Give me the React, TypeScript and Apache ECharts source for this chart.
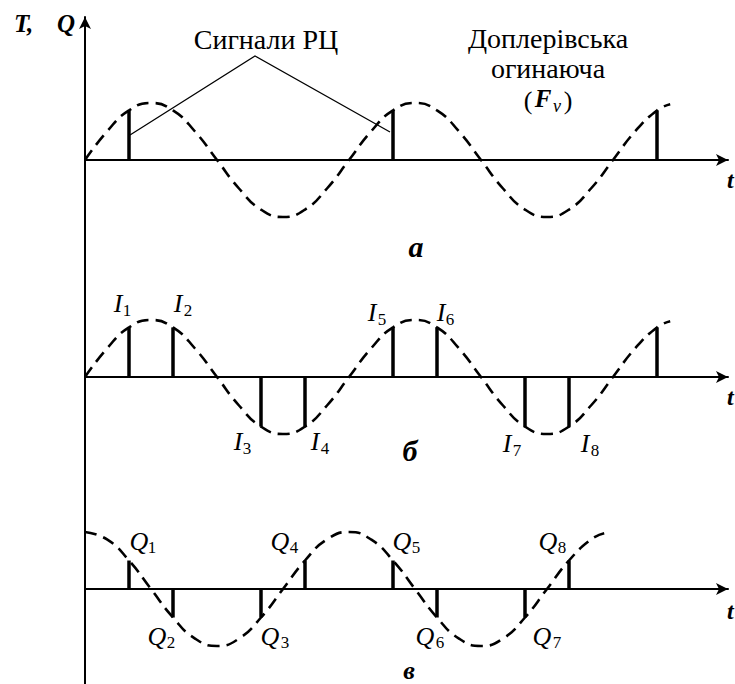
import React, { useEffect, useRef } from "react";
import * as echarts from "echarts";

// Time is measured in pulse intervals; the Doppler envelope has a period of 6 intervals.
const envelopeSinT = [0, 0.5, 1, 1.5, 2, 2.5, 3, 3.5, 4, 4.5, 5, 5.5, 6, 6.5, 7, 7.5, 8, 8.5, 9, 9.5, 10, 10.5, 11, 11.5, 12, 12.5, 13, 13.3];
const envelopeSinV = [0, 0.5, 0.87, 1, 0.87, 0.5, 0, -0.5, -0.87, -1, -0.87, -0.5, 0, 0.5, 0.87, 1, 0.87, 0.5, 0, -0.5, -0.87, -1, -0.87, -0.5, 0, 0.5, 0.87, 0.98];

const envelopeCosT = [0, 0.5, 1, 1.5, 2, 2.5, 3, 3.5, 4, 4.5, 5, 5.5, 6, 6.5, 7, 7.5, 8, 8.5, 9, 9.5, 10, 10.5, 11, 11.5, 11.8];
const envelopeCosV = [1, 0.87, 0.5, 0, -0.5, -0.87, -1, -0.87, -0.5, 0, 0.5, 0.87, 1, 0.87, 0.5, 0, -0.5, -0.87, -1, -0.87, -0.5, 0, 0.5, 0.87, 0.98];

// Panel а: radar pulses hitting the same envelope phase every period
const pulseAT = [1, 7, 13];
const pulseAV = [0.87, 0.87, 0.87];

// Panel б: in-phase samples I1..I8 (plus the next one)
const pulseIT = [1, 2, 4, 5, 7, 8, 10, 11, 13];
const pulseIV = [0.87, 0.87, -0.87, -0.87, 0.87, 0.87, -0.87, -0.87, 0.87];
const iSubs = ["1", "2", "3", "4", "5", "6", "7", "8"];

// Panel в: quadrature samples Q1..Q8
const pulseQT = [1, 2, 4, 5, 7, 8, 10, 11];
const pulseQV = [0.5, -0.5, -0.5, 0.5, 0.5, -0.5, -0.5, 0.5];
const qSubs = ["1", "2", "3", "4", "5", "6", "7", "8"];

const SERIF = "Liberation Serif, DejaVu Serif, serif";
const X0 = 85;
const AXIS_W = 643;
const PX_PER_T = 44;
const X_MAX = AXIS_W / PX_PER_T;
const AMP_PX = 57;
const BASELINES = [160, 377, 589];

// label anchor points (letter centre, subscript centre)
const iLabelPos = [
  [118, 303, 127, 310],
  [178, 303, 188, 310],
  [238, 441, 247, 448],
  [315, 441, 325, 448],
  [372, 312, 382, 319],
  [441, 312, 450, 319],
  [507, 443, 517, 450],
  [585, 443, 595, 450],
];
const qLabelPos = [
  [139, 541, 152, 547],
  [157, 636, 171, 642],
  [270, 636, 285, 642],
  [280, 541, 294, 547],
  [402, 541, 416, 547],
  [425, 636, 440, 642],
  [542, 636, 557, 642],
  [548, 541, 562, 547],
];

const zip = (a: number[], b: number[]) => a.map((t, i) => [t, b[i]]);

const txt = (
  text: string,
  x: number,
  y: number,
  size: number,
  o: { italic?: boolean; bold?: boolean; align?: string; valign?: string } = {}
) => ({
  type: "text",
  x,
  y,
  silent: true,
  style: {
    text,
    fill: "#000",
    fontFamily: SERIF,
    fontSize: size,
    fontStyle: o.italic ? "italic" : "normal",
    fontWeight: o.bold ? "bold" : "normal",
    align: o.align || "center",
    verticalAlign: o.valign || "middle",
  },
});

const pulseRender = (params: any, api: any) => {
  const t = api.value(0);
  const v = api.value(1);
  const p0 = api.coord([t, 0]);
  const p1 = api.coord([t, v]);
  return {
    type: "line",
    shape: { x1: p0[0], y1: p0[1], x2: p1[0], y2: p1[1] },
    style: { stroke: "#000", lineWidth: 3.5 },
  };
};

export default function App() {
  const ref = useRef<HTMLDivElement>(null);

  useEffect(() => {
    if (!ref.current) return;
    const chart = echarts.init(ref.current, undefined, { renderer: "svg" });

    const panelGrids = BASELINES.map((b) => ({
      left: X0,
      top: b - AMP_PX,
      width: AXIS_W,
      height: AMP_PX * 2,
    }));

    const panelX = BASELINES.map((_, i) => ({
      type: "value",
      gridIndex: i,
      min: 0,
      max: X_MAX,
      axisLine: {
        show: true,
        onZero: true,
        symbol: ["none", "arrow"],
        symbolSize: [9, 12],
        lineStyle: { color: "#000", width: 2 },
      },
      axisTick: { show: false },
      axisLabel: { show: false },
      splitLine: { show: false },
    }));

    const panelY = BASELINES.map((_, i) => ({
      type: "value",
      gridIndex: i,
      min: -1,
      max: 1,
      show: false,
    }));

    const envStyle = { color: "#000", width: 2.6, type: [12, 7] };
    const envSeries = (i: number, data: number[][]) => ({
      type: "line",
      xAxisIndex: i,
      yAxisIndex: i,
      data,
      smooth: true,
      symbol: "none",
      clip: false,
      lineStyle: envStyle,
      z: 3,
    });
    const pulseSeries = (i: number, data: number[][]) => ({
      type: "custom",
      xAxisIndex: i,
      yAxisIndex: i,
      data,
      renderItem: pulseRender,
      z: 4,
    });

    const graphic: any[] = [
      // axis titles
      txt("T,", 14, 23, 25, { italic: true, bold: true, align: "left" }),
      txt("Q", 66, 23, 25, { italic: true, bold: true }),
      txt("t", 727, 180, 24, { italic: true, bold: true, align: "left" }),
      txt("t", 727, 397, 24, { italic: true, bold: true, align: "left" }),
      txt("t", 727, 611, 24, { italic: true, bold: true, align: "left" }),
      // callouts
      txt("Сигнали РЦ", 266, 39, 28),
      {
        type: "polyline",
        silent: true,
        shape: { points: [[130, 135], [255, 56], [390, 132]] },
        style: { stroke: "#000", lineWidth: 1.3, fill: "none" },
      },
      txt("Доплерівська", 548, 38, 28),
      txt("огинаюча", 548, 68, 28),
      txt("(", 528, 100, 26),
      txt("F", 543, 98, 25, { italic: true, bold: true }),
      txt("v", 557, 106, 18, { italic: true }),
      txt(")", 568, 100, 26),
      // panel letters
      txt("а", 416, 246, 30, { italic: true, bold: true }),
      txt("б", 410, 450, 30, { italic: true, bold: true }),
      txt("в", 409, 683, 26, { italic: true, bold: true, valign: "bottom" }),
    ];
    iSubs.forEach((s, k) => {
      const [x, y, sx, sy] = iLabelPos[k];
      graphic.push(txt("I", x, y, 26, { italic: true }));
      graphic.push(txt(s, sx, sy, 17));
    });
    qSubs.forEach((s, k) => {
      const [x, y, sx, sy] = qLabelPos[k];
      graphic.push(txt("Q", x, y, 26, { italic: true }));
      graphic.push(txt(s, sx, sy, 17));
    });

    chart.setOption({
      animation: false,
      backgroundColor: "#fff",
      grid: [
        ...panelGrids,
        { left: X0, top: 17, width: 1, height: 700 },
      ],
      xAxis: [...panelX, { type: "value", gridIndex: 3, show: false }],
      yAxis: [
        ...panelY,
        {
          type: "value",
          gridIndex: 3,
          min: 0,
          max: 1,
          position: "left",
          axisLine: {
            show: true,
            onZero: false,
            symbol: ["none", "arrow"],
            symbolSize: [9, 12],
            lineStyle: { color: "#000", width: 2 },
          },
          axisTick: { show: false },
          axisLabel: { show: false },
          splitLine: { show: false },
        },
      ],
      series: [
        envSeries(0, zip(envelopeSinT, envelopeSinV)),
        pulseSeries(0, zip(pulseAT, pulseAV)),
        envSeries(1, zip(envelopeSinT, envelopeSinV)),
        pulseSeries(1, zip(pulseIT, pulseIV)),
        envSeries(2, zip(envelopeCosT, envelopeCosV)),
        pulseSeries(2, zip(pulseQT, pulseQV)),
      ],
      graphic,
    });

    return () => chart.dispose();
  }, []);

  return (
    <div
      ref={ref}
      style={{ position: "absolute", left: 0, top: 0, width: 735, height: 684, background: "#fff" }}
    />
  );
}
